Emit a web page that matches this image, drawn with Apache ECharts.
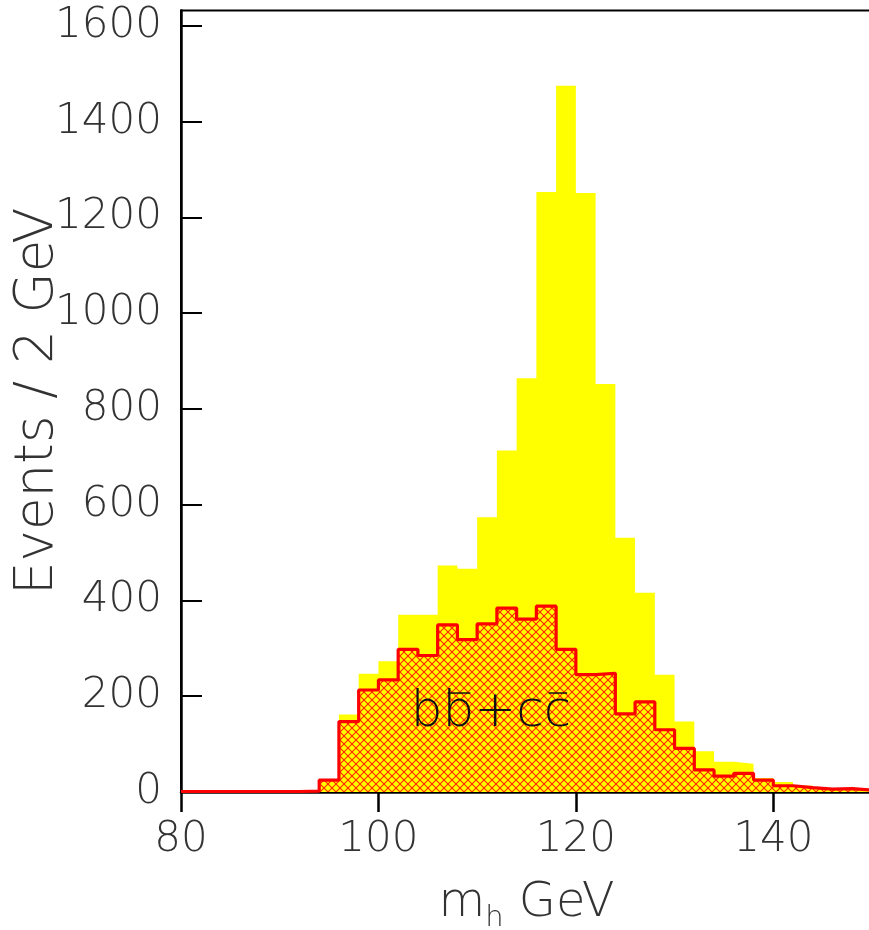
<!DOCTYPE html>
<html>
<head>
<meta charset="utf-8">
<script src="https://cdn.jsdelivr.net/npm/echarts@6/dist/echarts.min.js"></script>
<style>
html,body{margin:0;padding:0;background:#fff;}
#c{width:869px;height:930px;}
</style>
</head>
<body>
<div id="c"></div>
<script>
// Bin lower edges (GeV), 2 GeV bins
const binEdges = [80,82,84,86,88,90,92,94,96,98,100,102,104,106,108,110,112,114,116,118,120,122,124,126,128,130,132,134,136,138,140,142,144,146,148];
const binUpper = 150;
// Total events per bin (yellow)
const totalEvents = [1,1,1,1,1,1,2,27,162,247,273,370,370,473,466,574,713,864,1253,1475,1251,852,531,416,245,147,85,63,59,29,21,13,8,9,5];
// b bbar + c cbar events per bin (red hatched)
const bbccEvents = [1,1,1,1,1,1,2,25,147,213,234,298,285,349,318,351,384,361,388,298,245,248,163,188,130,91,46,33,39,25,13,9,6,7,4];
// Axis ticks
const xTicks = [80,100,120,140];
const yTicks = [0,200,400,600,800,1000,1200,1400,1600];

function stepData(vals){
  const d = binEdges.map((e,i)=>[e, vals[i]]);
  d.push([binUpper, vals[vals.length-1]]);
  return d;
}

// crosshatch pattern
const pc = document.createElement('canvas');
const P = 8;
pc.width = P; pc.height = P;
const g = pc.getContext('2d');
g.fillStyle = '#ffff00';
g.fillRect(0,0,P,P);
g.strokeStyle = '#ff2000';
g.lineWidth = 1.1;
for (const off of [-P,0,P]) {
  g.beginPath(); g.moveTo(off,0); g.lineTo(off+P,P); g.stroke();
  g.beginPath(); g.moveTo(off+P,0); g.lineTo(off,P); g.stroke();
}

const font = 'DejaVu Sans';
const chart = echarts.init(document.getElementById('c'), null, {renderer:'canvas'});
chart.setOption({
  animation:false,
  backgroundColor:'#fff',
  grid:{left:181, top:10.5, width:691, bottom:138, outerBoundsMode:'none', containLabel:false,
        show:true, borderColor:'#000', borderWidth:2, backgroundColor:'transparent'},
  xAxis:{
    type:'value', min:80, max:150, interval:20,
    axisLine:{show:true, lineStyle:{color:'#000', width:2.5}},
    axisTick:{show:true, inside:false, length:20, lineStyle:{color:'#000', width:2.5}},
    splitLine:{show:false},
    axisLabel:{margin:27, fontSize:42, fontFamily:font, fontWeight:200, color:'#333', showMaxLabel:false,
      formatter:v=> xTicks.includes(v) ? String(v) : ''},
    name:'{m|m}{s|h}{g| GeV}', nameLocation:'middle', nameGap:83, nameMoveOverlap:false,
    nameTextStyle:{rich:{
      m:{fontSize:48, fontFamily:font, fontWeight:200, color:'#333'},
      s:{fontSize:29, fontFamily:font, fontWeight:200, color:'#333', verticalAlign:'bottom', padding:[29,0,0,0]},
      g:{fontSize:48, fontFamily:font, fontWeight:200, color:'#333'}
    }}
  },
  yAxis:{
    type:'value', min:0, max:1632, interval:200,
    axisLine:{show:true, lineStyle:{color:'#000', width:2.5}},
    axisTick:{show:true, inside:true, length:21, lineStyle:{color:'#000', width:2}},
    splitLine:{show:false},
    axisLabel:{margin:19, fontSize:42, fontFamily:font, fontWeight:200, color:'#333', showMaxLabel:false,
      formatter:v=> yTicks.includes(v) ? String(v) : ''},
    name:'Events / 2 GeV', nameLocation:'middle', nameGap:116, nameRotate:90, nameMoveOverlap:false,
    nameTextStyle:{fontSize:53, fontFamily:font, fontWeight:200, color:'#333'}
  },
  series:[
    {type:'line', step:'end', data:stepData(totalEvents), symbol:'none', z:2,
     lineStyle:{width:0, color:'#ffff00'}, areaStyle:{color:'#ffff00', opacity:1}},
    {type:'line', step:'end', data:stepData(bbccEvents), symbol:'none', z:3,
     lineStyle:{width:3.2, color:'#ff0000'}, areaStyle:{color:{image:pc, repeat:'repeat'}, opacity:1}}
  ]
});

// annotation "b b̄ + c c̄" with overbars drawn as short lines
const lblFont = '200 50px "DejaVu Sans"';
const mc = document.createElement('canvas').getContext('2d');
mc.font = lblFont;
const parts = ['b','b','+','c','c'];
const widths = parts.map(p=>mc.measureText(p).width);
const totalW = widths.reduce((a,b)=>a+b,0);
const center = chart.convertToPixel({gridIndex:0}, [111.4, 167]);
let cx = center[0] - totalW/2;
const starts = [];
for (const w of widths){ starts.push(cx); cx += w; }
const baseY = center[1] + 26;
const els = [{type:'text', x:center[0] - totalW/2, y:baseY, z:10,
  style:{text:parts.join(''), font:lblFont, fill:'#111', textAlign:'left', textVerticalAlign:'bottom'}}];
function bar(i, yTop){
  els.push({type:'line', z:11, shape:{x1:starts[i]+5, y1:yTop, x2:starts[i]+widths[i]-4, y2:yTop},
    style:{stroke:'#111', lineWidth:1.5}});
}
bar(1, baseY - 45);
bar(4, baseY - 45);
chart.setOption({graphic:els});
</script>
</body>
</html>
